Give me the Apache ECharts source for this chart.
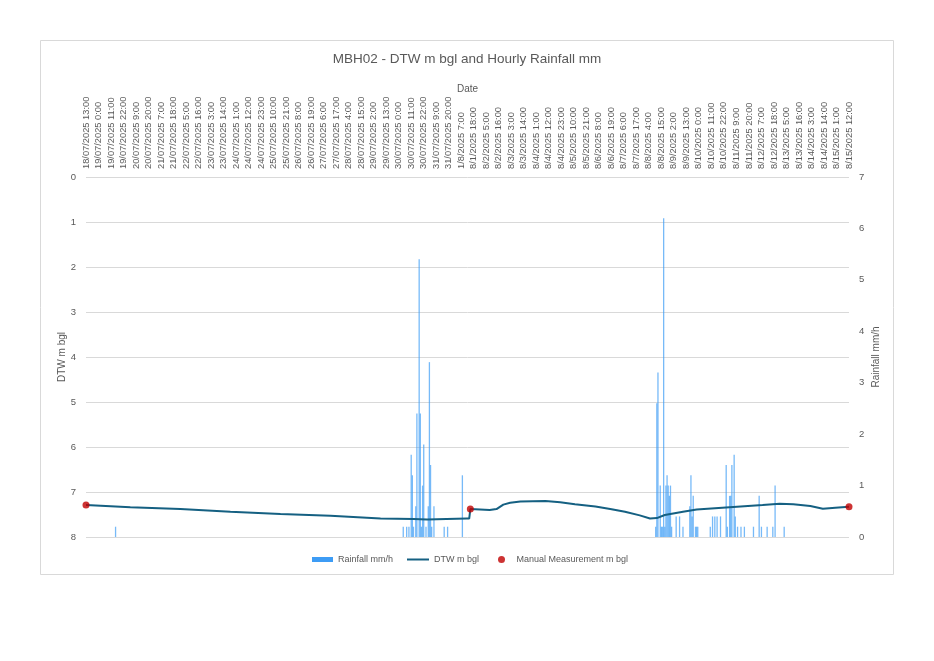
<!DOCTYPE html>
<html>
<head>
<meta charset="utf-8">
<script src="https://cdn.jsdelivr.net/npm/echarts@6/dist/echarts.min.js"></script>
<style>
html,body{margin:0;padding:0;background:#fff;}
#chart{width:934px;height:661px;}
</style>
</head>
<body>
<div id="chart"></div>
<script>
// ---- data ----
var hourCount = 672;            // hourly steps 18/07/2025 13:00 .. 8/15/2025 12:00
var hoursPerTick = 11;
var tickLabels = [
  "18/07/2025 13:00","19/07/2025 0:00","19/07/2025 11:00","19/07/2025 22:00","20/07/2025 9:00","20/07/2025 20:00",
  "21/07/2025 7:00","21/07/2025 18:00","22/07/2025 5:00","22/07/2025 16:00","23/07/2025 3:00","23/07/2025 14:00",
  "24/07/2025 1:00","24/07/2025 12:00","24/07/2025 23:00","25/07/2025 10:00","25/07/2025 21:00","26/07/2025 8:00",
  "26/07/2025 19:00","27/07/2025 6:00","27/07/2025 17:00","28/07/2025 4:00","28/07/2025 15:00","29/07/2025 2:00",
  "29/07/2025 13:00","30/07/2025 0:00","30/07/2025 11:00","30/07/2025 22:00","31/07/2025 9:00","31/07/2025 20:00",
  "1/8/2025 7:00","8/1/2025 18:00","8/2/2025 5:00","8/2/2025 16:00","8/3/2025 3:00","8/3/2025 14:00",
  "8/4/2025 1:00","8/4/2025 12:00","8/4/2025 23:00","8/5/2025 10:00","8/5/2025 21:00","8/6/2025 8:00",
  "8/6/2025 19:00","8/7/2025 6:00","8/7/2025 17:00","8/8/2025 4:00","8/8/2025 15:00","8/9/2025 2:00",
  "8/9/2025 13:00","8/10/2025 0:00","8/10/2025 11:00","8/10/2025 22:00","8/11/2025 9:00","8/11/2025 20:00",
  "8/12/2025 7:00","8/12/2025 18:00","8/13/2025 5:00","8/13/2025 16:00","8/14/2025 3:00","8/14/2025 14:00",
  "8/15/2025 1:00","8/15/2025 12:00"
];
var dtwHour  = [0,   39,  83,  127, 171, 215, 259, 288, 300, 317, 335, 337, 338, 355, 361, 367, 373, 382, 404, 417, 430, 448, 461, 474, 487, 496, 502, 509, 525, 537, 566, 595, 610, 622, 637, 648, 659, 671];
var dtwValue = [7.29,7.34,7.38,7.44,7.49,7.53,7.59,7.60,7.61,7.60,7.59,7.59,7.38,7.40,7.38,7.28,7.24,7.21,7.20,7.23,7.27,7.32,7.38,7.44,7.52,7.59,7.58,7.51,7.44,7.39,7.34,7.29,7.26,7.27,7.31,7.37,7.35,7.33];
var manualHour  = [0, 338, 671];
var manualValue = [7.29, 7.38, 7.33];
var rainHour  = [26, 279,282,284,286,287,288,290,291,293,294,295,296,297,299,301,302,303,304,306,315,318,331,
                 501,502,503,505,506,507,508,509,510,511,512,513,514,515,519,522,525,531,532,533,534,536,537,538,
                 549,551,553,555,558,563,564,566,567,568,570,571,573,576,579,587,592,594,599,604,606,614];
var rainValue = [0.2, 0.2,0.2,0.2,1.6,1.2,0.2,0.6,2.4,5.4,2.4,0.2,1.0,1.8,0.2,0.6,3.4,1.4,0.2,0.6,0.2,0.2,1.2,
                 0.2,2.6,3.2,1.0,0.2,0.2,6.2,0.2,1.0,1.2,1.0,0.8,1.0,0.2,0.4,0.4,0.2,0.6,1.2,0.4,0.8,0.2,0.2,0.2,
                 0.2,0.4,0.4,0.4,0.4,1.4,0.2,0.8,0.8,1.4,1.6,0.4,0.2,0.2,0.2,0.2,0.8,0.2,0.2,0.2,1.0,0.2];

// ---- build ----
var categories = [];
for (var i = 0; i < hourCount; i++) categories.push(String(i));
function pairs(xs, ys){ return xs.map(function(x, k){ return [x, ys[k]]; }); }

var txt = '#595959';
var font = 'Liberation Sans';
var chart = echarts.init(document.getElementById('chart'), null, {renderer:'canvas'});
chart.setOption({
  animation: false,
  backgroundColor: '#ffffff',
  title: {
    text: 'MBH02 - DTW m bgl and Hourly Rainfall mm',
    left: 'center', top: 47,
    textStyle: {color: txt, fontSize: 13.5, fontWeight: 'normal', fontFamily: font}
  },
  graphic: [{
    type: 'rect', silent: true, z: -10,
    shape: {x: 40.5, y: 40.5, width: 853, height: 534},
    style: {fill: 'none', stroke: '#d9d9d9', lineWidth: 1}
  }],
  legend: [
    {data: [{name: 'Rainfall mm/h', icon: 'rect', itemStyle: {color: '#3d9cf5'}}], left: 307, top: 550, itemWidth: 21, itemHeight: 5, itemGap: 4,
     textStyle: {color: txt, fontSize: 9, fontFamily: font}},
    {data: [{name: 'DTW m bgl', icon: 'rect'}], left: 402, top: 550, itemWidth: 22, itemHeight: 2, itemGap: 4,
     textStyle: {color: txt, fontSize: 9, fontFamily: font}},
    {data: [{name: 'Manual Measurement m bgl', icon: 'circle'}], left: 493, top: 550, itemWidth: 8, itemHeight: 7, itemGap: 4,
     textStyle: {color: txt, fontSize: 9, fontFamily: font, padding: [0, 0, 0, 6]}}
  ],
  grid: {left: 86, right: 85, top: 177, bottom: 124, containLabel: false},
  xAxis: {
    type: 'category', position: 'top', data: categories, boundaryGap: false,
    name: 'Date', nameLocation: 'middle', nameGap: 83, nameMoveOverlap: false,
    nameTextStyle: {color: txt, fontSize: 10, fontFamily: font},
    axisLine: {show: false}, axisTick: {show: false},
    splitLine: {show: false},
    axisLabel: {
      rotate: 90, margin: 8, color: txt, fontSize: 9.3, fontFamily: font,
      interval: function(idx){ return idx % hoursPerTick === 0; },
      formatter: function(v, idx){ return idx % hoursPerTick === 0 ? tickLabels[idx / hoursPerTick] : ''; }
    }
  },
  yAxis: [
    {
      type: 'value', inverse: true, min: 0, max: 8, interval: 1, position: 'left',
      name: 'DTW m bgl', nameLocation: 'middle', nameGap: 19, nameRotate: 90, nameMoveOverlap: false,
      nameTextStyle: {color: txt, fontSize: 10, fontFamily: font},
      axisLine: {show: false}, axisTick: {show: false},
      axisLabel: {color: txt, fontSize: 9.5, fontFamily: font, margin: 10},
      splitLine: {lineStyle: {color: '#d9d9d9', width: 1}}
    },
    {
      type: 'value', min: 0, max: 7, interval: 1, position: 'right',
      name: 'Rainfall mm/h', nameLocation: 'middle', nameGap: 22, nameRotate: 90, nameMoveOverlap: false,
      nameTextStyle: {color: txt, fontSize: 10, fontFamily: font},
      axisLine: {show: false}, axisTick: {show: false},
      axisLabel: {color: txt, fontSize: 9.5, fontFamily: font, margin: 10},
      splitLine: {show: false}
    }
  ],
  series: [
    {
      name: 'Rainfall mm/h', type: 'bar', yAxisIndex: 1, barWidth: 1.3,
      data: pairs(rainHour, rainValue),
      itemStyle: {color: 'rgba(61,156,245,0.7)'},
      z: 1
    },
    {
      name: 'DTW m bgl', type: 'line', yAxisIndex: 0, symbol: 'none', smooth: false,
      data: pairs(dtwHour, dtwValue),
      lineStyle: {color: '#156082', width: 2},
      itemStyle: {color: '#156082'},
      z: 3
    },
    {
      name: 'Manual Measurement m bgl', type: 'scatter', yAxisIndex: 0, symbol: 'circle', symbolSize: 7,
      data: pairs(manualHour, manualValue),
      itemStyle: {color: '#c00000'},
      z: 4
    }
  ]
});
</script>
</body>
</html>
